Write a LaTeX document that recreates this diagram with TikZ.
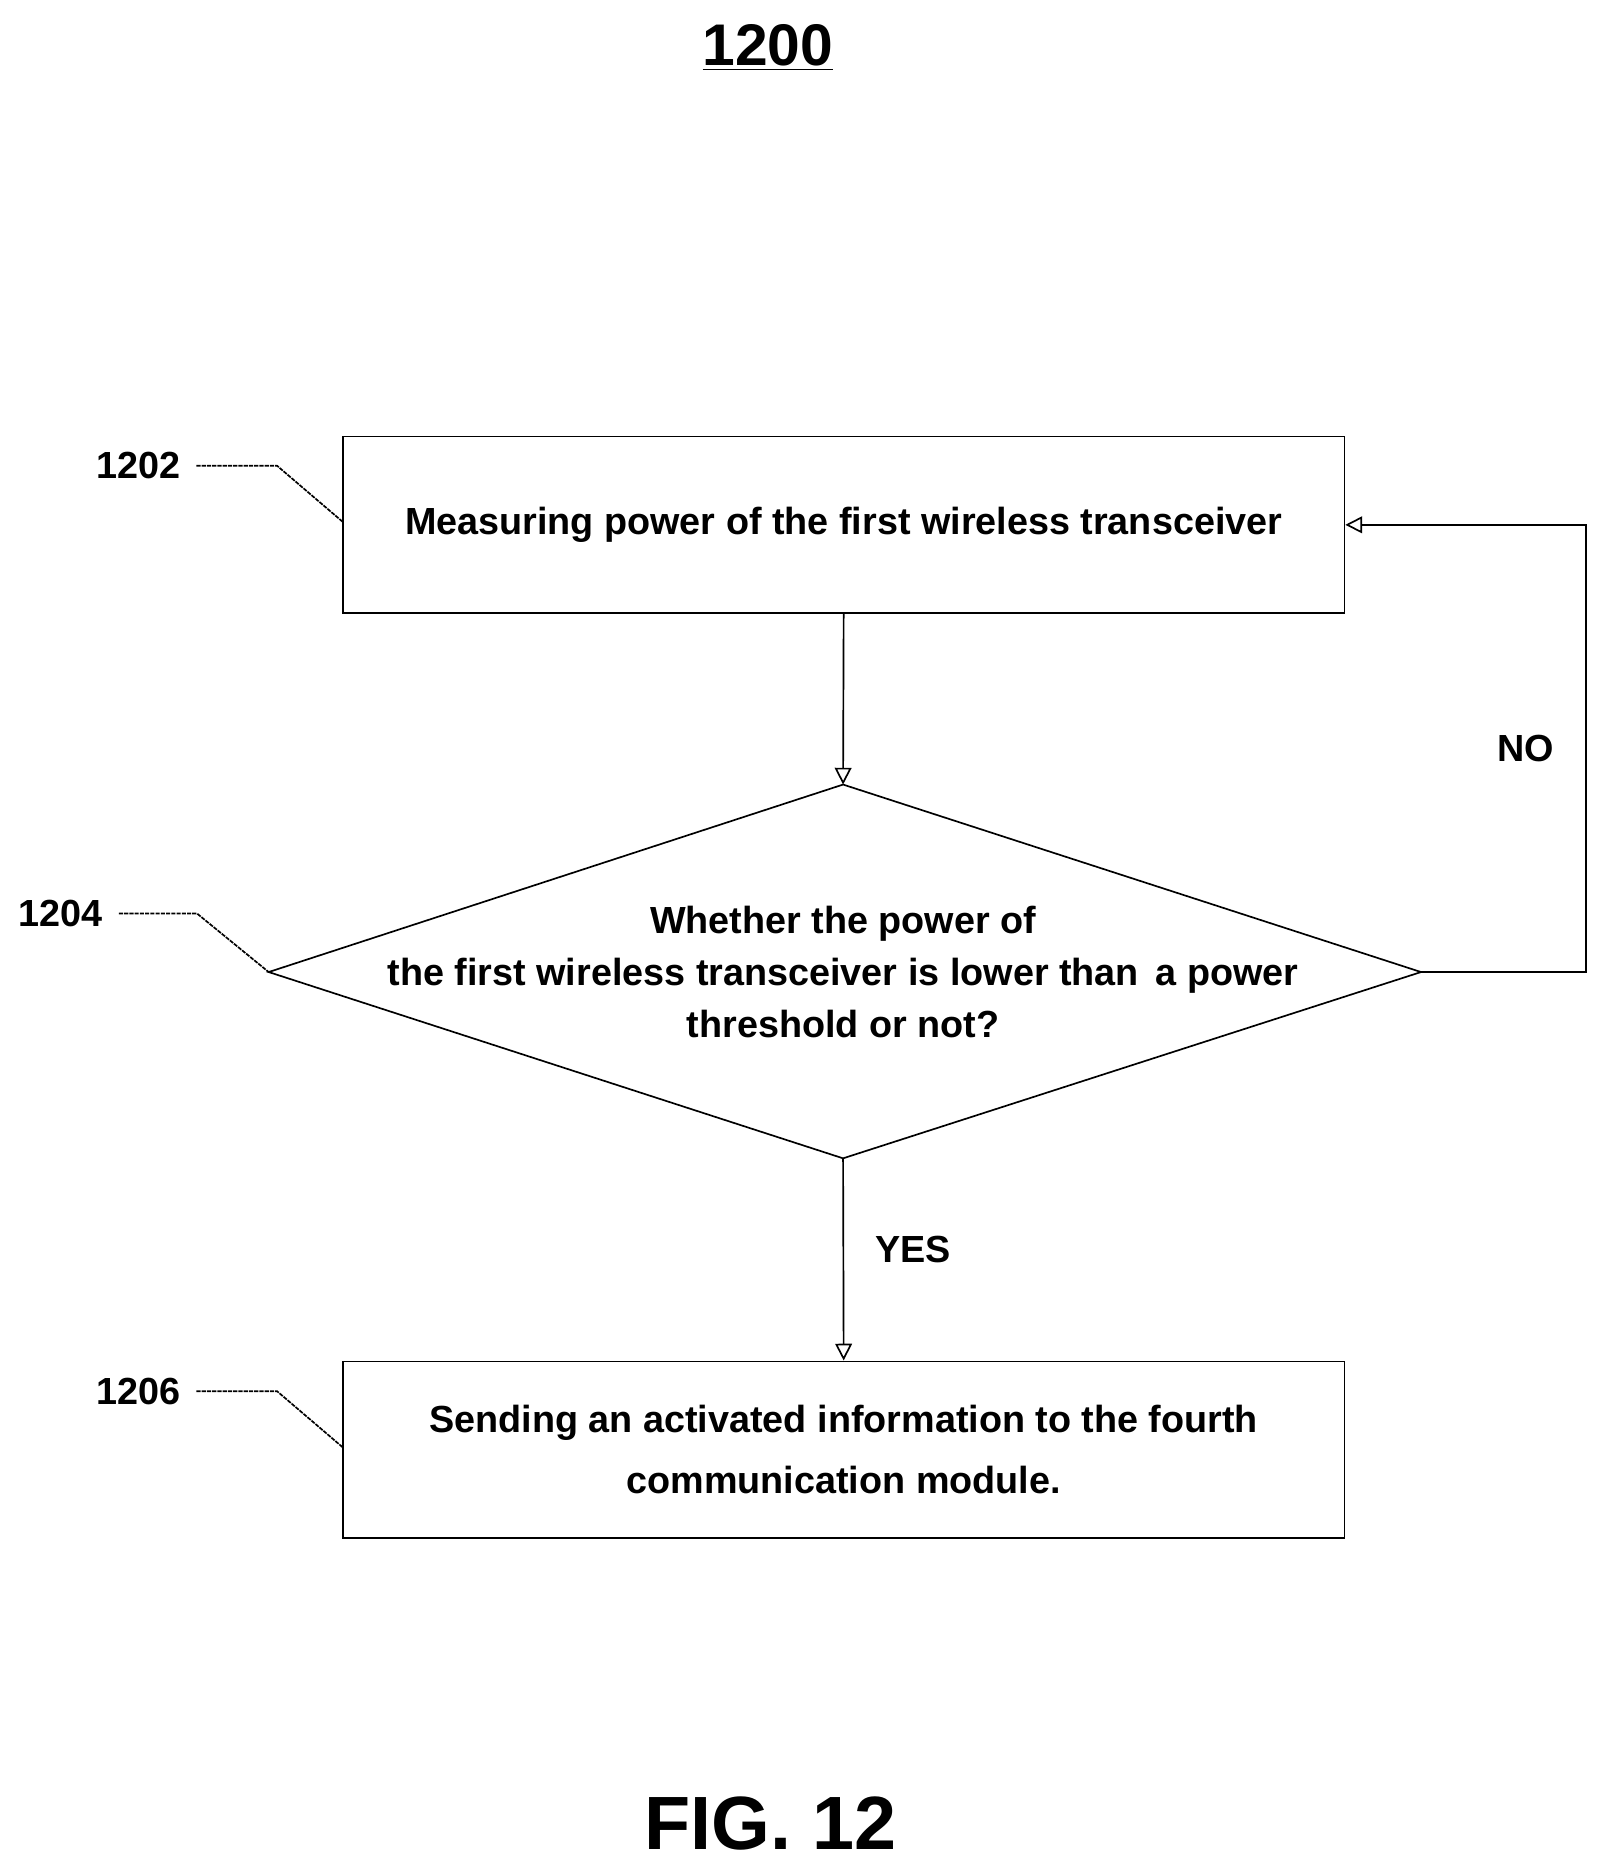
\documentclass[tikz,border=0pt]{standalone}
\usepackage{fontspec}
\setmainfont{Liberation Sans}
\usetikzlibrary{positioning, arrows.meta}
\tikzset{
    stepnode/.style = {draw, rectangle, line width=0.8pt, minimum width=16.78cm,
      minimum height=2.96cm, align=center, font=\fontsize{18}{29}\selectfont\bfseries},
    decisiontext/.style = {align=center, font=\fontsize{18}{25}\selectfont\bfseries},
    refnode/.style = {font=\fontsize{18}{22}\selectfont\bfseries},
    leader/.style = {line width=0.8pt, dash pattern=on 2pt off 0.5pt},
    connect/.style = {line width=0.8pt, -{Triangle[open, length=8pt, width=8pt]}},
    every text node part/.style={align=center}
}
\begin{document}
\begin{tikzpicture}[x=0.02cm, y=-0.02cm]
    \useasboundingbox (0,0) rectangle (1350,1571);
    % title
    \node [name=title, font=\fontsize{28}{32}\selectfont\bfseries] at (643,40) {\underline{1200}};

    % steps
    \node [name=measure, stepnode] at (706.5,439.5) {Measuring power of the first wireless transceiver};
    \coordinate (checkN) at (706,657);
    \coordinate (checkE) at (1190,814);
    \coordinate (checkS) at (706,970);
    \coordinate (checkW) at (225,814);
    \draw [line width=0.8pt] (checkN) -- (checkE) -- (checkS) -- (checkW) -- cycle;
    \node [name=check, decisiontext] at (706,814) {Whether the power of\\the first wireless transceiver is lower than\, a power\\threshold or not?};
    \node [name=send, stepnode] at (706.5,1214) {Sending an activated information to the fourth\\communication module.};

    % connectors
    \draw [connect] (measure.south) -- (checkN);
    \draw [connect] (checkS) -- node [right=0.4cm, pos=0.45, refnode] {YES} (send.north);
    \coordinate (loop) at (1328,814);
    \draw [connect] (checkE) -- (loop) |- node [pos=0.25, left=0.4cm, refnode] {NO} (measure.east);

    % reference labels
    \node [name=ref1202, refnode, anchor=east] at (157,390) {1202};
    \draw [leader] (ref1202.east) ++(0.15cm,0) -- (232,390) -- (287,437);
    \node [name=ref1204, refnode, anchor=east] at (92,765) {1204};
    \draw [leader] (ref1204.east) ++(0.15cm,0) -- (165,765) -- (checkW);
    \node [name=ref1206, refnode, anchor=east] at (157,1165) {1206};
    \draw [leader] (ref1206.east) ++(0.15cm,0) -- (232,1165) -- (287,1212);

    % figure label
    \node [name=fig, font=\fontsize{36}{40}\selectfont\bfseries] at (645,1527) {FIG. 12};
\end{tikzpicture}
\end{document}
